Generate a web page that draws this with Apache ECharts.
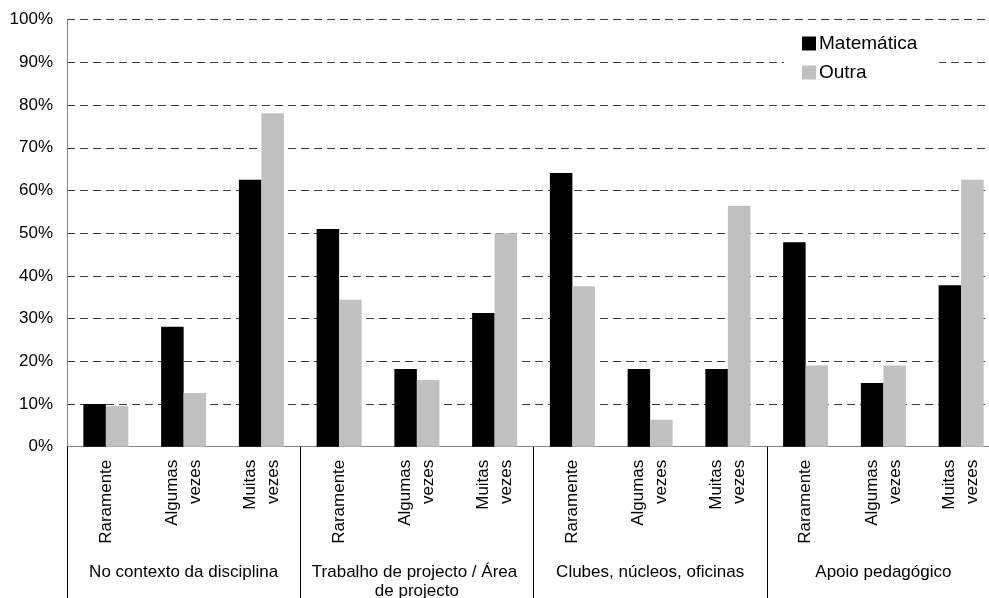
<!DOCTYPE html>
<html>
<head>
<meta charset="utf-8">
<script src="https://cdn.jsdelivr.net/npm/echarts@6/dist/echarts.min.js"></script>
<style>
  html, body { margin: 0; padding: 0; background: #fff; }
  #chart { width: 989px; height: 598px; }
</style>
</head>
<body>
<div id="chart"></div>
<script>
// Response categories (inner axis) and the contexts they belong to (outer axis)
const categories = [
  'Raramente', 'Algumas vezes', 'Muitas vezes',
  'Raramente', 'Algumas vezes', 'Muitas vezes',
  'Raramente', 'Algumas vezes', 'Muitas vezes',
  'Raramente', 'Algumas vezes', 'Muitas vezes'
];
const groups = [
  'No contexto da disciplina',
  'Trabalho de projecto / Área de projecto',
  'Clubes, núcleos, oficinas',
  'Apoio pedagógico'
];
const seriesNames = ['Matemática', 'Outra'];
const matematica = [10.0, 28.1, 62.5, 51.0, 18.2, 31.3, 64.1, 18.2, 18.2, 47.9, 14.9, 37.8];
const outra      = [9.5, 12.6, 78.1, 34.4, 15.6, 50.0, 37.6, 6.3, 56.4, 19.0, 19.0, 62.5];
const yTicks = { min: 0, max: 100, interval: 10 };

const FONT = "'Liberation Sans', Arial, sans-serif";
const chart = echarts.init(document.getElementById('chart'), null, { renderer: 'canvas' });

chart.setOption({
  animation: false,
  backgroundColor: '#fff',
  textStyle: { fontFamily: FONT },
  grid: {
    left: 67, right: -11, top: 19.7, bottom: 151.3,
    containLabel: false,
    outerBoundsMode: 'none'
  },
  legend: {
    orient: 'vertical',
    left: 784,
    top: 26,
    padding: [8, 22, 8, 18],
    backgroundColor: '#fff',
    itemWidth: 14,
    itemHeight: 14,
    itemGap: 10,
    icon: 'rect',
    data: seriesNames,
    textStyle: { fontFamily: FONT, fontSize: 19, color: '#000', padding: [0, 0, 0, -2] }
  },
  xAxis: [
    {
      type: 'category',
      data: categories,
      position: 'bottom',
      axisLine: { show: true, lineStyle: { color: '#868686', width: 1 } },
      axisTick: { show: false },
      axisLabel: {
        interval: 0,
        rotate: 90,
        margin: 13,
        fontFamily: FONT,
        fontSize: 17,
        lineHeight: 23,
        color: '#000',
        formatter: v => v.replace(' ', '\n')
      },
      splitLine: { show: false }
    },
    {
      type: 'category',
      data: groups,
      position: 'bottom',
      offset: 0,
      axisLine: { show: false },
      axisTick: { show: true, length: 152, interval: 0, lineStyle: { color: '#000', width: 1 } },
      axisLabel: {
        interval: 0,
        margin: 116,
        fontFamily: FONT,
        fontSize: 17,
        lineHeight: 19,
        color: '#000',
        width: 220,
        overflow: 'break'
      },
      splitLine: { show: false }
    }
  ],
  yAxis: {
    type: 'value',
    min: yTicks.min,
    max: yTicks.max,
    interval: yTicks.interval,
    axisLine: { show: true, lineStyle: { color: '#868686', width: 1 } },
    axisTick: { show: false },
    axisLabel: {
      formatter: '{value}%',
      margin: 14,
      fontFamily: FONT,
      fontSize: 17,
      color: '#000'
    },
    splitLine: {
      show: true,
      lineStyle: { color: '#3a3a3a', width: 1, type: [8, 5] }
    }
  },
  series: [
    {
      name: seriesNames[0],
      type: 'bar',
      xAxisIndex: 0,
      data: matematica,
      barWidth: 22.5,
      barGap: '0%',
      itemStyle: { color: '#000000' }
    },
    {
      name: seriesNames[1],
      type: 'bar',
      xAxisIndex: 0,
      data: outra,
      barWidth: 22.5,
      barGap: '0%',
      itemStyle: { color: '#c0c0c0' }
    }
  ]
});
</script>
</body>
</html>
